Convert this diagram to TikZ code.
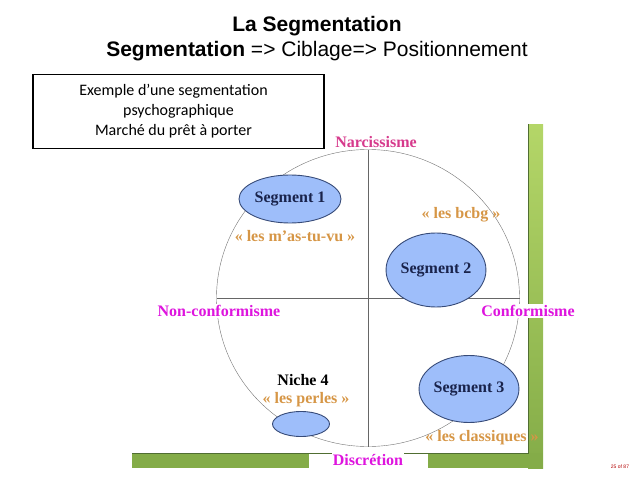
\documentclass[tikz,border=0pt]{standalone}
\usepackage{fontspec}
\setmainfont{Liberation Serif}
\newfontfamily\headfont{Liberation Sans}
\newfontfamily\notefont{Carlito}
\usetikzlibrary{shapes.geometric,positioning}
\definecolor{axispink}{RGB}{214,58,140}
\definecolor{axismagenta}{RGB}{222,20,222}
\definecolor{tagorange}{RGB}{214,150,70}
\definecolor{segfill}{RGB}{158,190,250}
\definecolor{segline}{RGB}{55,75,120}
\definecolor{segtext}{RGB}{25,35,75}
\definecolor{barlight}{RGB}{180,214,104}
\definecolor{bardark}{RGB}{132,172,72}
\definecolor{barline}{RGB}{80,110,50}
\tikzset{
  seg/.style={draw=segline, line width=0.9pt, fill=segfill, ellipse, inner sep=0pt, text=segtext, font=\bfseries\fontsize{16}{18}\selectfont},
  tag/.style={text=tagorange, font=\bfseries\fontsize{16}{18}\selectfont},
  axis/.style={fill=white, inner sep=1pt, text=axismagenta, font=\bfseries\fontsize{16}{18}\selectfont},
}

\begin{document}
\begin{tikzpicture}[x=1pt,y=-1pt]
				\useasboundingbox (0,0) rectangle (638,479);
				% green frame
				\shade[top color=barlight, bottom color=bardark] (528,124) rectangle (543,468);
				\fill[bardark] (132,453) rectangle (309,468);
				\fill[bardark] (428,453) rectangle (543,468);
				\draw[barline] (528,124) -- (528,453) -- (132,453);
				% titles
				\node[font=\headfont\bfseries\fontsize{21}{25}\selectfont] (title) at (317,26) {La Segmentation};
				\node[font=\headfont\fontsize{21}{25}\selectfont] (steps) at (317,51) {\textbf{Segmentation} => Ciblage=> Positionnement};
				\node[draw, line width=1.4pt, minimum width=291pt, minimum height=74pt, align=center, font=\notefont\fontsize{16}{20}\selectfont] (example) at (178.5,111.5) {Exemple d’une segmentation\hspace*{10pt}\\psychographique\hspace*{10pt}\\Marché du prêt à porter\hspace*{10pt}};
				% map
				\node[draw=black!55, ellipse, minimum width=303pt, minimum height=297pt, inner sep=0pt, outer sep=0pt] (map) at (368,298) {};
				\draw[black!60] (map.north) -- (map.south);
				\draw[black!60] (map.west) -- (map.east);
				\node[seg, minimum width=102pt, minimum height=48pt] (seg1) at (290,199) {Segment 1};
				\node[tag, below=3pt of seg1, xshift=5pt] (mastuvu) {« les m’as-tu-vu »};
				\node[seg, minimum width=78pt, minimum height=74pt] (seg2) at (436,270) {Segment 2};
				\node[tag, above=7pt of seg2, xshift=25pt] (bcbg) {« les bcbg »};
				\node[seg, minimum width=88pt, minimum height=67pt] (seg3) at (469,389) {Segment 3};
				\node[tag, below=3.5pt of seg3, xshift=13pt] (classiques) {« les classiques »};
				\node[seg, minimum width=57pt, minimum height=25pt] (niche) at (301,424) {};
				\node[tag, above=1pt of niche, xshift=5pt] (perles) {« les perles »};
				\node[font=\bfseries\fontsize{16}{18}\selectfont, above=-1pt of perles, xshift=-3pt] (niche4) {Niche 4};
				% axes
				\node[axis, fill=none, text=axispink] (narc) at (376,142) {Narcissisme};
				\node[axis] (nonconf) at (219,311) {Non-conformisme};
				\node[axis] (conf) at (528,311) {Conformisme};
				\node[axis] (discr) at (368,460) {Discrétion};
				\node[font=\headfont\fontsize{5}{6}\selectfont, text=red!70!black] (pageno) at (620,467) {25 of 87};
			\end{tikzpicture}
\end{document}
